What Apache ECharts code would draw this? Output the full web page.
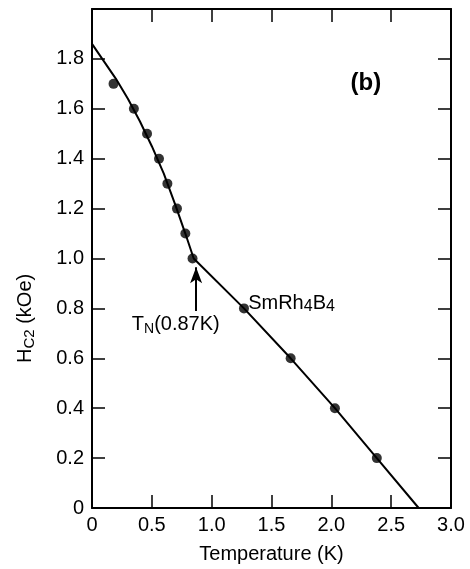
<!DOCTYPE html>
<html lang="en">
<head>
  <meta charset="UTF-8">
  <title>SmRh4B4 Hc2</title>
  <style>
    html, body { margin: 0; padding: 0; background: #fff; }
    #chart { width: 470px; height: 569px; }
  </style>
</head>
<body>
  <div id="chart"></div>
  <script src="https://cdn.jsdelivr.net/npm/echarts@6/dist/echarts.min.js"></script>
  <script>
    // measured points (T in K, Hc2 in kOe)
    const pointT = [0.18, 0.35, 0.46, 0.56, 0.63, 0.71, 0.78, 0.84, 1.27, 1.66, 2.03, 2.38]
    const pointH = [1.70, 1.60, 1.50, 1.40, 1.30, 1.20, 1.10, 1.00, 0.80, 0.60, 0.40, 0.20]
    // drawn curve
    const curveT = [0, 0.1, 0.2, 0.3, 0.4, 0.5, 0.6, 0.7, 0.78, 0.85, 1.27, 1.66, 2.03, 2.38, 2.73]
    const curveH = [1.86, 1.79, 1.72, 1.64, 1.55, 1.45, 1.34, 1.21, 1.10, 1.00, 0.80, 0.60, 0.40, 0.20, 0]
    const font = 'Liberation Sans'

    const fmt = v => (v === 0 ? '0' : v.toFixed(1))
    const axisLine = { show: true, onZero: false, lineStyle: { color: '#000', width: 2 } }
    const tick = { show: true, inside: true, length: 13, lineStyle: { color: '#000', width: 1.5 } }

    const option = {
      animation: false,
      backgroundColor: '#fff',
      grid: { left: 92, right: 19, top: 9, bottom: 59 },
      xAxis: [
        {
          type: 'value', min: 0, max: 3, interval: 0.5,
          axisLine, axisTick: tick, splitLine: { show: false },
          axisLabel: { color: '#000', fontSize: 20, fontFamily: font, margin: 7, formatter: fmt },
          name: 'Temperature (K)', nameLocation: 'middle', nameGap: 36,
          nameTextStyle: { color: '#000', fontSize: 20, fontFamily: font }
        },
        {
          type: 'value', position: 'top', min: 0, max: 3, interval: 0.5,
          axisLine, axisTick: tick, axisLabel: { show: false }, splitLine: { show: false }
        }
      ],
      yAxis: [
        {
          type: 'value', min: 0, max: 2, interval: 0.2,
          axisLine, axisTick: tick, splitLine: { show: false },
          axisLabel: {
            color: '#000', fontSize: 20, fontFamily: font, margin: 8,
            formatter: v => (v >= 1.99 ? '' : fmt(v))
          }
        },
        {
          type: 'value', position: 'right', min: 0, max: 2, interval: 0.2,
          axisLine, axisTick: tick, axisLabel: { show: false }, splitLine: { show: false }
        }
      ],
      series: [
        {
          type: 'line',
          data: curveT.map((t, i) => [t, curveH[i]]),
          symbol: 'none',
          lineStyle: { color: '#000', width: 2 },
          markLine: {
            silent: true,
            symbol: ['none', 'arrow'],
            symbolSize: [9, 16],
            lineStyle: { color: '#000', width: 2, type: 'solid' },
            label: { show: false },
            data: [[{ coord: [0.87, 0.79] }, { coord: [0.87, 0.965] }]]
          }
        },
        {
          type: 'scatter',
          data: pointT.map((t, i) => [t, pointH[i]]),
          symbolSize: 10,
          itemStyle: { color: '#000' }
        }
      ]
    }

    const myChart = echarts.init(document.getElementById('chart'))
    myChart.setOption(option)

    const px = (x, y) => myChart.convertToPixel({ gridIndex: 0 }, [x, y])
    const pB = px(2.16, 1.70)
    const pTn = px(0.70, 0.735)
    const pSm = px(1.305, 0.82)
    const pY = px(0, 0.76)

    myChart.setOption({
      graphic: [
        {
          type: 'text', x: pB[0], y: pB[1],
          style: { text: '(b)', fill: '#000', font: 'bold 24px "' + font + '"', verticalAlign: 'middle' }
        },
        {
          type: 'text', x: pTn[0], y: pTn[1],
          style: {
            text: '{m|T}{s|N}{m|(0.87K)}', align: 'center', verticalAlign: 'middle',
            rich: {
              m: { fill: '#000', fontSize: 20, fontFamily: font },
              s: { fill: '#000', fontSize: 14, fontFamily: font, padding: [10, 0, 0, 0] }
            }
          }
        },
        {
          type: 'text', x: pSm[0], y: pSm[1],
          style: {
            text: '{m|SmRh}{s|4}{m|B}{s|4}', verticalAlign: 'middle',
            rich: {
              m: { fill: '#000', fontSize: 20, fontFamily: font },
              s: { fill: '#000', fontSize: 16, fontFamily: font, padding: [7, 0, 0, 0] }
            }
          }
        },
        {
          // y-axis title, rotated
          type: 'text', x: 25, y: pY[1], rotation: Math.PI / 2,
          style: {
            text: '{m|H}{s|C2}{m| (kOe)}', align: 'center', verticalAlign: 'middle',
            rich: {
              m: { fill: '#000', fontSize: 20, fontFamily: font },
              s: { fill: '#000', fontSize: 15, fontFamily: font, padding: [10, 0, 0, 0] }
            }
          }
        }
      ]
    })
  </script>
</body>
</html>
